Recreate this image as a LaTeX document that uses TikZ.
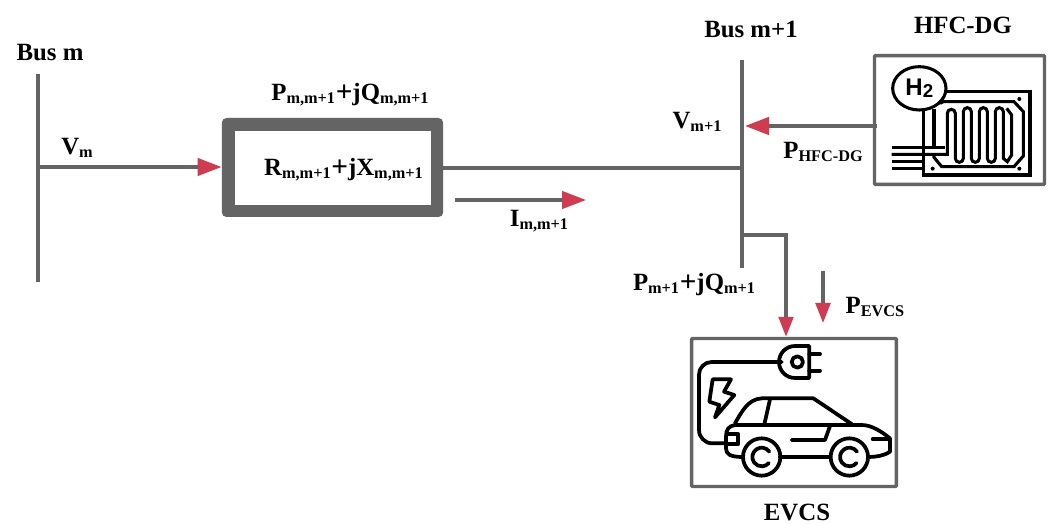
\documentclass[tikz,border=0pt]{standalone}
\usepackage{fontspec}
\setmainfont{Liberation Serif}
\setsansfont{Liberation Sans}
\usetikzlibrary{arrows.meta}
\definecolor{wire}{RGB}{100,100,100}
\definecolor{tipred}{RGB}{205,60,80}
\newcommand{\lbl}[1]{{\fontsize{18.6}{20}\selectfont\bfseries #1}}
\newcommand{\sbs}[1]{\raisebox{-2.2pt}{\fontsize{12.2}{12}\selectfont\bfseries #1}}
\newcommand{\bigplus}{\kern0.5pt\raisebox{-0.5pt}{\fontsize{22}{22}\selectfont\bfseries +}}
\tikzset{
  wireline/.style={draw=wire,line width=2.5pt},
  redarrow/.style={wireline,-{Triangle[length=18pt,width=13pt,color=tipred]}},
  smallarrow/.style={wireline,-{Triangle[length=15pt,width=11pt,color=tipred]}},
  tag/.style={inner sep=0pt,text=black,font=\bfseries},
  iconbox/.style={draw=wire,line width=2.6pt,fill=white,rounded corners=0.8pt},
  icon/.style={draw=black,line width=2.8pt,line join=round,line cap=round},
  thinicon/.style={draw=black,line width=2.3pt,line join=miter}
}
\begin{document}
\begin{tikzpicture}[x=0.75pt,y=-0.75pt]
\useasboundingbox (0,0) rectangle (1051,524);
\fill[white] (0,0) rectangle (1051,524);
% buses
\coordinate (mtop) at (38,74); \coordinate (mbot) at (38,282);
\coordinate (ntop) at (742,60); \coordinate (nbot) at (742,268);
\coordinate (vm) at (38,167); \coordinate (vn) at (742,168);
\draw[wireline] (mtop) -- (mbot);
\draw[wireline] (ntop) -- (nbot);
% line box
\node[fill=wire,rounded corners=3.5pt,minimum width=166pt,minimum height=74.25pt,inner sep=0pt] (line) at (332.5,167.5) {};
\fill[white] (235,131) rectangle (431,205);
\node[tag,anchor=center] (rx) at (343.5,170) {\lbl{R\sbs{m,m+1}\bigplus jX\sbs{m,m+1}}};
\draw[redarrow] (vm) -- (line.west |- vm);
\draw[wireline] (line.east |- vn) -- (vn);
% current arrow
\coordinate (ia) at (455,200); \coordinate (ib) at (586,200);
\draw[redarrow] (ia) -- (ib);
% HFC box
\node[iconbox,minimum width=127.5pt,minimum height=96.7pt,inner sep=0pt] (hfc) at (959.5,120) {};
\coordinate (ha) at (877,126); \coordinate (hb) at (745,126);
\draw[redarrow] (ha) -- (hb);
% EVCS box
\node[iconbox,minimum width=153.7pt,minimum height=111pt,inner sep=0pt] (evcs) at (794,412.5) {};
\coordinate (e0) at (742,235); \coordinate (e1) at (786,235);
\draw[smallarrow] (e0) -- (e1) -- (e1 |- evcs.north);
\coordinate (pa) at (823,271); \coordinate (pb) at (823,323);
\draw[smallarrow] (pa) -- (pb);
% labels
\node[tag] (t1) at (50,52.5) {\lbl{Bus m}};
\node[tag] (t2) at (751,29) {\lbl{Bus m+1}};
\node[tag] (t3) at (963,25) {\lbl{HFC-DG}};
\node[tag] (t4) at (797,512.5) {\lbl{EVCS}};
\node[tag] (t5) at (77,148) {\lbl{V\sbs{m}}};
\node[tag] (t6) at (350,95) {\lbl{P\sbs{m,m+1}\bigplus jQ\sbs{m,m+1}}};
\node[tag] (t7) at (539,221) {\lbl{I\sbs{m,m+1}}};
\node[tag] (t8) at (697,122) {\lbl{V\sbs{m+1}}};
\node[tag] (t9) at (823,152) {\lbl{P\sbs{HFC-DG}}};
\node[tag] (t10) at (694,285) {\lbl{P\sbs{m+1}\bigplus jQ\sbs{m+1}}};
\node[tag] (t11) at (875,307) {\lbl{P\sbs{EVCS}}};
% HFC icon, drawn in zoomed crop coordinates
\begin{scope}[shift={(860,40)},x=0.25pt,y=-0.25pt]
 \draw[thinicon] (178,145) ellipse (80 and 65);
 \node[tag] (h2) at (178,145) {\fontsize{18}{18}\selectfont\sffamily\bfseries H\raisebox{-2pt}{\fontsize{14}{14}\selectfont 2}};
 \draw[thinicon] (262,155) -- (510,155) -- (510,405) -- (190,405) -- (190,208);
 \draw[thinicon] (222,208) -- (222,325);
 \draw[thinicon] (222,345) -- (222,352) -- (245,380) -- (462,380) -- (490,348) -- (490,215) -- (462,185) -- (250,185) -- (240,190);
 \draw[thinicon] (95,322) -- (255,322);
 \draw[thinicon] (95,343) -- (262,343) -- (262,220) arc[start angle=180,end angle=360,radius=12] -- (286,355) arc[start angle=180,end angle=0,radius=12] -- (310,215) arc[start angle=180,end angle=360,radius=12] -- (334,355) arc[start angle=180,end angle=0,radius=12] -- (358,215) arc[start angle=180,end angle=360,radius=12] -- (382,355) arc[start angle=180,end angle=0,radius=12] -- (406,215) arc[start angle=180,end angle=360,radius=12] -- (430,355) -- (442,365) -- (455,345) -- (455,225) -- (440,205);
 \draw[thinicon] (95,364) -- (190,364);
 \draw[thinicon] (95,385) -- (190,385);
 \fill (478,177) circle (6); \fill (478,386) circle (6); \fill (218,386) circle (6);
\end{scope}
% EVCS icon, drawn in zoomed crop coordinates
\begin{scope}[shift={(680,330)},x=0.25pt,y=-0.25pt]
 % plug
 \draw[icon] (388,48) -- (345,48) arc[start angle=270,end angle=90,radius=48] -- (388,144) -- cycle;
 \draw[icon] (352,96) circle (17);
 \draw[icon] (388,72) -- (420,72);
 \draw[icon] (388,122) -- (420,122);
 % cable
 \draw[icon] (305,96) -- (95,96) arc[start angle=270,end angle=180,radius=38] -- (57,300) arc[start angle=180,end angle=90,radius=40] -- (140,340);
 % bolt
 \draw[icon] (98,148) -- (153,148) -- (132,185) -- (163,195) -- (105,262) -- (118,225) -- (88,215) -- cycle;
 % car body
 \draw[icon] (165,285) -- (545,285) .. controls (575,285) and (605,305) .. (630,325) -- (630,365) .. controls (610,378) and (590,380) .. (568,381);
 \draw[icon] (165,285) .. controls (145,288) and (138,300) .. (138,320) -- (138,355) .. controls (138,372) and (150,381) .. (188,381);
 \draw[icon] (300,381) -- (450,381);
 % roof
 \draw[icon] (165,280) .. controls (185,245) and (205,207) .. (245,205) -- (400,205) -- (515,282);
 \draw[icon] (270,208) -- (253,283);
 % door line
 \draw[icon] (335,330) -- (435,330) -- (450,288);
 % lights
 \draw[icon] (140,312) -- (175,312) -- (175,342) -- (140,342);
 \draw[icon] (578,328) -- (628,328);
 % wheels
 \draw[icon] (245,381) circle (56);
 \draw[icon] (508,381) circle (56);
 \draw[icon] (268,365) arc[start angle=-35,end angle=-320,radius=28];
 \draw[icon] (531,365) arc[start angle=-35,end angle=-320,radius=28];
\end{scope}
\end{tikzpicture}
\end{document}
